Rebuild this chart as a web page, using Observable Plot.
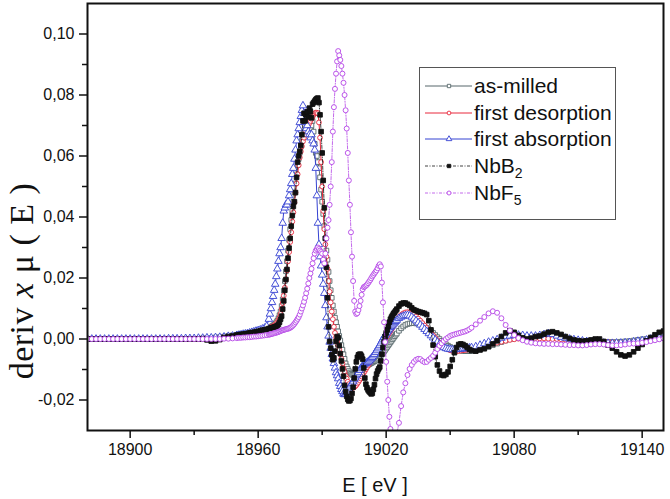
<!DOCTYPE html>
<html><head><meta charset="utf-8">
<script src="https://cdn.jsdelivr.net/npm/d3@7"></script>
<script src="https://cdn.jsdelivr.net/npm/@observablehq/plot@0.6"></script>
<style>
body{margin:0;background:#fff;}
#wrap{position:relative;width:670px;height:499px;font-family:"Liberation Sans",Arial,sans-serif;}
#legend{position:absolute;left:419px;top:67px;width:197px;height:153px;border:1px solid #555;background:#fff;box-sizing:border-box;}
#legend .row{position:absolute;left:5px;height:26px;display:flex;align-items:center;white-space:nowrap;font-size:21px;color:#111;}
#legend .row svg{display:block;margin-right:1px;}
#legend sub{font-size:14px;position:relative;top:5px;vertical-align:baseline;}
</style>
</head><body>
<div id="wrap"><div id="chart"></div><div id="legend"></div></div>
<script>
// ---------- data ----------
const energy = [
18880,18882,18884,18886,18888,18890,18892,18894,18896,18898,
18900,18902,18904,18906,18908,18910,18912,18914,18916,18918,
18920,18922,18924,18926,18928,18930,18932,18934,18936,18938,
18940,18942,18944,18946,18948,18950,
18951,18952,18953,18954,18955,18956,18957,18958,18959,18960,
18961,18962,18963,18964,18965,
18965.5,18966,18966.5,18967,18967.5,18968,18968.5,18969,18969.5,18970,
18970.5,18971,18971.5,18972,18972.5,18973,18973.5,18974,18974.5,18975,
18975.5,18976,18976.5,18977,18977.5,18978,18978.5,18979,18979.5,18980,
18980.5,18981,18981.5,18982,18982.5,18983,18983.5,18984,18984.5,18985,
18985.5,18986,18986.5,18987,18987.5,18988,18988.5,18989,18989.5,18990,
18990.5,18991,18991.5,18992,18992.5,18993,18993.5,18994,18994.5,18995,
18995.5,18996,18996.5,18997,18997.5,18998,18998.5,18999,18999.5,19000,
19000.5,19001,19001.5,19002,19002.5,19003,19003.5,19004,19004.5,19005,
19005.5,19006,19006.5,19007,19007.5,19008,19008.5,19009,19009.5,19010,
19010.5,19011,19011.5,19012,19012.5,19013,19013.5,19014,19014.5,19015,
19015.5,19016,19016.5,19017,19017.5,19018,19018.5,19019,19019.5,19020,
19020.5,19021,19021.5,19022,19022.5,19023,19023.5,19024,19024.5,19025,
19026,19027,19028,19029,19030,19031,19032,19033,19034,19035,
19036,19037,19038,19039,19040,19041,19042,19043,19044,19045,
19046,19047,19048,19049,19050,19051,19052,19053,19054,19055,
19056,19057,19058,19059,19060,
19062,19064,19066,19068,19070,19072,19074,19076,19078,19080,
19082,19084,19086,19088,19090,19092,19094,19096,19098,19100,
19102,19104,19106,19108,19110,19112,19114,19116,19118,19120,
19122,19124,19126,19128,19130,19132,19134,19136,19138,19140,
19142,19144,19146,19148,19150
];

const asMilled = [
0,0,0,0,0,0,0,0,0,0,
0,0,0,0,0,0,0,0,0,0,
0,0,0,0,0,0,0,0.0002,0.0002,0.0003,
0.0005,0.0006,0.0008,0.001,0.0012,0.0014,
0.0015,0.0016,0.0017,0.0018,0.0019,0.002,0.0022,0.0024,0.0025,0.0027,
0.0029,0.0031,0.0033,0.0035,0.0037,
0.0038,0.004,0.0042,0.0044,0.0047,0.005,0.0055,0.006,0.0068,0.0078,
0.009,0.0108,0.013,0.0158,0.019,0.0222,0.0255,0.029,0.0325,0.036,
0.039,0.042,0.045,0.048,0.051,0.054,0.057,0.059,0.061,0.063,
0.065,0.066,0.0675,0.068,0.069,0.07,0.071,0.0705,0.069,0.07,
0.0715,0.068,0.064,0.061,0.06,0.058,0.056,0.053,0.049,0.045,
0.041,0.037,0.033,0.029,0.026,0.022,0.019,0.016,0.0135,0.011,
0.009,0.007,0.0055,0.004,0.0025,0.001,-0.0005,-0.002,-0.0035,-0.005,
-0.0065,-0.008,-0.009,-0.0098,-0.0105,-0.011,-0.0114,-0.0117,-0.0118,-0.0118,
-0.0116,-0.0113,-0.011,-0.0107,-0.0104,-0.0101,-0.0098,-0.0095,-0.0093,-0.0091,
-0.0089,-0.0087,-0.0085,-0.0083,-0.0081,-0.0079,-0.0077,-0.0075,-0.0073,-0.0071,
-0.0068,-0.0065,-0.0062,-0.0058,-0.0054,-0.005,-0.0046,-0.0041,-0.0036,-0.0031,
-0.0026,-0.0021,-0.0016,-0.0011,-0.0006,-0.0001,0.0004,0.0009,0.0014,0.0018,
0.0027,0.0035,0.0041,0.0046,0.0049,0.0051,0.0052,0.0052,0.0051,0.005,
0.0048,0.0045,0.0041,0.0036,0.0031,0.0026,0.002,0.0013,0.0006,0,
-0.0006,-0.0012,-0.0017,-0.0022,-0.0026,-0.003,-0.0033,-0.0035,-0.0037,-0.0038,
-0.0039,-0.004,-0.004,-0.004,-0.0039,
-0.0037,-0.0034,-0.003,-0.0025,-0.002,-0.0015,-0.001,-0.0005,-0.0001,0.0002,
0.0004,0.0005,0.0006,0.0007,0.0007,0.0007,0.0007,0.0007,0.0006,0.0005,
0.0003,0.0001,-0.0001,-0.0003,-0.0005,-0.0006,-0.0007,-0.0008,-0.0009,-0.001,
-0.001,-0.001,-0.001,-0.001,-0.0009,-0.0008,-0.0007,-0.0005,-0.0003,-0.0001,
0,0.0001,0.0002,0.0003,0.0004
];

const firstDesorption = [
0,0,0,0,0,0,0,0,0,0,
0,0,0,0,0,0,0,0,0,0,
0,0,0,0,0,0,0,0.0001,0.0002,0.0003,
0.0004,0.0006,0.0007,0.0009,0.001,0.0012,
0.0013,0.0014,0.0015,0.0016,0.0018,0.0019,0.002,0.0022,0.0024,0.0026,
0.0028,0.003,0.0032,0.0034,0.0036,
0.0037,0.0039,0.004,0.0042,0.0044,0.0047,0.005,0.0055,0.0062,0.007,
0.0082,0.0098,0.0118,0.0142,0.0168,0.0195,0.0225,0.0255,0.0285,0.0318,
0.035,0.0385,0.0415,0.0448,0.048,0.051,0.054,0.057,0.0595,0.0615,
0.0632,0.0648,0.066,0.067,0.068,0.069,0.07,0.0708,0.0715,0.0722,
0.0728,0.0735,0.074,0.0742,0.0742,0.074,0.071,0.066,0.058,0.05,
0.042,0.036,0.031,0.027,0.023,0.019,0.0155,0.012,0.009,0.0065,
0.004,0.002,0.0005,-0.0008,-0.002,-0.0035,-0.005,-0.0065,-0.008,-0.0095,
-0.0108,-0.012,-0.013,-0.014,-0.0148,-0.0154,-0.0158,-0.016,-0.016,-0.0158,
-0.0155,-0.0151,-0.0146,-0.0141,-0.0135,-0.0129,-0.0123,-0.0117,-0.0111,-0.0105,
-0.0099,-0.0093,-0.0087,-0.0081,-0.0075,-0.0069,-0.0063,-0.0057,-0.0051,-0.0046,
-0.0041,-0.0036,-0.0031,-0.0026,-0.0021,-0.0016,-0.0011,-0.0006,-0.0001,0.0004,
0.0009,0.0015,0.002,0.0026,0.0032,0.0038,0.0044,0.005,0.0056,0.0062,
0.0072,0.0079,0.0084,0.0087,0.0088,0.0087,0.0084,0.008,0.0074,0.0067,
0.006,0.0052,0.0044,0.0036,0.0028,0.002,0.0012,0.0004,-0.0004,-0.0012,
-0.0019,-0.0025,-0.003,-0.0034,-0.0037,-0.0039,-0.004,-0.004,-0.0039,-0.0038,
-0.0037,-0.0036,-0.0035,-0.0034,-0.0033,
-0.003,-0.0027,-0.0023,-0.0019,-0.0015,-0.0012,-0.0009,-0.0006,-0.0003,-0.0001,
0.0001,0.0002,0.0003,0.0003,0.0003,0.0002,0.0002,0.0001,0,0,
-0.0001,-0.0002,-0.0003,-0.0004,-0.0005,-0.0006,-0.0007,-0.0007,-0.0008,-0.0008,
-0.0009,-0.001,-0.0011,-0.0012,-0.0012,-0.0012,-0.0011,-0.001,-0.0008,-0.0006,
-0.0004,-0.0002,0,0.0002,0.0004
];

const firstAbsorption = [
0,0,0,0,0,0,0,0,0,0,
0,0,0,0,0,0,0,0,0,0.0001,
0.0001,0.0001,0.0001,0.0002,0.0002,0.0002,0.0003,0.0003,0.0004,0.0004,
0.0005,0.0006,0.0007,0.0009,0.001,0.0012,
0.0013,0.0014,0.0016,0.0017,0.0018,0.002,0.0022,0.0024,0.0026,0.0028,
0.003,0.0033,0.0036,0.0042,0.0065,
0.0082,0.01,0.012,0.014,0.016,0.018,0.0205,0.023,0.0255,0.028,
0.03,0.033,0.038,0.042,0.043,0.044,0.044,0.045,0.047,0.049,
0.051,0.054,0.056,0.059,0.062,0.065,0.067,0.069,0.071,0.073,
0.075,0.0765,0.074,0.071,0.069,0.07,0.068,0.067,0.066,0.067,
0.065,0.064,0.062,0.056,0.047,0.038,0.031,0.027,0.024,0.021,
0.018,0.015,0.011,0.007,0.004,0.001,-0.001,-0.003,-0.005,-0.0065,
-0.008,-0.0095,-0.011,-0.012,-0.013,-0.0145,-0.0155,-0.0165,-0.0172,-0.018,
-0.0182,-0.018,-0.0175,-0.017,-0.0163,-0.0157,-0.015,-0.0145,-0.014,-0.0133,
-0.0127,-0.012,-0.0115,-0.011,-0.0103,-0.0097,-0.0092,-0.0088,-0.0085,-0.0082,
-0.008,-0.0077,-0.0075,-0.0072,-0.0068,-0.0064,-0.006,-0.0055,-0.005,-0.0044,
-0.0038,-0.0032,-0.0026,-0.002,-0.0013,-0.0006,0,0.0006,0.0012,0.0018,
0.0023,0.0028,0.0033,0.0038,0.0042,0.0046,0.005,0.0054,0.0058,0.0062,
0.0068,0.0072,0.0075,0.0077,0.0078,0.0076,0.0072,0.0066,0.006,0.0053,
0.0046,0.0039,0.0032,0.0025,0.0018,0.0011,0.0004,-0.0003,-0.001,-0.0017,
-0.0023,-0.0028,-0.0031,-0.0033,-0.0034,-0.0035,-0.0035,-0.0034,-0.0033,-0.0033,
-0.0032,-0.0031,-0.003,-0.0029,-0.0028,
-0.0025,-0.002,-0.0015,-0.001,-0.0006,-0.0002,0.0003,0.0008,0.001,0.0012,
0.0013,0.0012,0.001,0.001,0.001,0.0012,0.0015,0.0018,0.0015,0.001,
0.0006,0.0003,0,-0.0002,-0.0004,-0.0006,-0.0008,-0.001,-0.0011,-0.0012,
-0.0013,-0.0014,-0.0014,-0.0013,-0.0013,-0.0012,-0.0011,-0.0009,-0.0007,-0.0005,
-0.0003,0,0.0002,0.0003,0.0005
];

const nbB2 = [
0,0,0,0,0,0,0,0,0,0,
0,0,0,0,0,0,0,0,0,0,
0,0,0,0,0,0,0,0.0001,-0.0003,-0.0007,
-0.0006,-0.0002,0.0005,0.0008,0.001,0.0013,
0.0014,0.0015,0.0016,0.0017,0.0018,0.002,0.0021,0.0022,0.0024,0.0025,
0.0027,0.0029,0.003,0.0032,0.0034,
0.0035,0.0036,0.0037,0.0038,0.0039,0.004,0.0042,0.0044,0.0048,0.0055,
0.0065,0.0075,0.0098,0.0125,0.016,0.0195,0.0228,0.0265,0.0298,0.033,
0.037,0.0405,0.0435,0.045,0.048,0.053,0.058,0.06,0.0615,0.0635,
0.067,0.0715,0.074,0.0715,0.0735,0.0745,0.0728,0.0757,0.0745,0.0725,
0.077,0.0775,0.078,0.0785,0.0788,0.079,0.0775,0.0735,0.068,0.061,
0.052,0.043,0.033,0.0235,0.0135,0.004,-0.0008,-0.003,-0.0052,-0.0068,
-0.0062,-0.004,-0.0008,0.0008,0.0004,-0.0022,-0.0048,-0.0072,-0.0098,-0.0122,
-0.0152,-0.0172,-0.0188,-0.0198,-0.0203,-0.0202,-0.0195,-0.0178,-0.0158,-0.0128,
-0.0098,-0.0075,-0.006,-0.0052,-0.005,-0.005,-0.0056,-0.0066,-0.0095,-0.0128,
-0.0148,-0.016,-0.0167,-0.0172,-0.0176,-0.018,-0.0178,-0.0165,-0.015,-0.013,
-0.0115,-0.0105,-0.0098,-0.0092,-0.0072,-0.005,-0.0028,-0.001,0.0008,0.002,
0.003,0.0042,0.0055,0.0065,0.0072,0.0078,0.0084,0.0088,0.0093,0.0098,
0.0108,0.0115,0.0118,0.0118,0.0114,0.011,0.0102,0.0096,0.0093,0.009,
0.0088,0.0086,0.0084,0.008,0.006,0.003,-0.002,-0.0058,-0.0085,-0.0105,
-0.0118,-0.012,-0.0116,-0.0108,-0.009,-0.0068,-0.0045,-0.0028,-0.0018,-0.0016,
-0.0018,-0.0022,-0.0028,-0.0034,-0.0038,
-0.004,-0.0036,-0.0032,-0.0025,-0.0016,-0.0006,0.0008,0.002,0.0027,0.0022,
0.0012,0.0004,0,0.0003,0.0008,0.001,0.0016,0.0022,0.0024,0.002,
0.0015,0.0008,0.0002,-0.0003,-0.0006,-0.0007,-0.0006,-0.0003,0,0,
-0.0008,-0.002,-0.003,-0.0042,-0.0052,-0.0056,-0.0052,-0.0042,-0.003,-0.0018,
-0.0006,0.0005,0.0014,0.0022,0.0026
];

const nbF5 = [
0,0,0,0,0,0,0,0,0,0,
0,0,0,0,0,0,0,0,0,0,
0,0,0,0,0,0,0,0,0,0,
0,0,0.0001,0.0001,0.0002,0.0003,
0.0004,0.0004,0.0005,0.0005,0.0006,0.0006,0.0007,0.0008,0.0008,0.0009,
0.001,0.0011,0.0012,0.0013,0.0014,
0.0015,0.0016,0.0017,0.0018,0.0019,0.002,0.0021,0.0022,0.0023,0.0025,
0.0026,0.0028,0.0029,0.003,0.0031,0.0032,0.0033,0.0034,0.0035,0.0037,
0.0039,0.0042,0.0046,0.005,0.0055,0.006,0.0066,0.0072,0.008,0.009,
0.01,0.011,0.0122,0.0135,0.015,0.0165,0.0182,0.02,0.0215,0.023,
0.0248,0.0265,0.028,0.029,0.0295,0.03,0.0295,0.029,0.0285,0.028,
0.026,0.0248,0.028,0.033,0.0365,0.039,0.044,0.05,0.058,0.068,
0.076,0.082,0.087,0.091,0.0944,0.093,0.0915,0.0895,0.087,0.084,
0.08,0.075,0.069,0.061,0.052,0.044,0.035,0.027,0.019,0.0125,
0.009,0.0082,0.0085,0.0095,0.0108,0.0125,0.0145,0.0163,0.017,0.0172,
0.0175,0.0178,0.0183,0.0188,0.0193,0.0199,0.0205,0.021,0.0215,0.022,
0.0225,0.0232,0.024,0.0245,0.0238,0.0185,0.012,0.0055,-0.001,-0.0075,
-0.014,-0.02,-0.0255,-0.0295,-0.033,-0.036,-0.037,-0.036,-0.034,-0.031,
-0.0275,-0.022,-0.0175,-0.0145,-0.0118,-0.0098,-0.0085,-0.0075,-0.0068,-0.0065,
-0.0066,-0.0072,-0.0076,-0.0075,-0.0068,-0.0062,-0.0055,-0.0045,-0.0033,-0.0022,
-0.0014,-0.0006,0,0.0005,0.001,0.0013,0.0015,0.0017,0.0019,0.0021,
0.0023,0.0025,0.0028,0.0032,0.0037,
0.0048,0.006,0.0072,0.0084,0.0091,0.0086,0.0068,0.0046,0.0028,0.0013,
0.0003,-0.0004,-0.0009,-0.0012,-0.0014,-0.0015,-0.0016,-0.0016,-0.0017,-0.0017,
-0.0018,-0.0019,-0.002,-0.002,-0.0021,-0.0021,-0.002,-0.0018,-0.0017,-0.0017,
-0.0018,-0.002,-0.0021,-0.0021,-0.002,-0.0018,-0.0016,-0.0015,-0.0014,-0.0012,
-0.001,-0.0007,-0.0004,-0.0001,0.0002
];

const seriesNames = ["as-milled", "first desorption", "first absorption", "NbB2", "NbF5"];
const seriesLabels = ["as-milled", "first desorption", "first absorption", "NbB<sub>2</sub>", "NbF<sub>5</sub>"];
const seriesValues = [asMilled, firstDesorption, firstAbsorption, nbB2, nbF5];

const xTicks = [18900, 18960, 19020, 19080, 19140];
const xMinorTicks = [18930, 18990, 19050, 19110];
const yTicks = [-0.02, 0, 0.02, 0.04, 0.06, 0.08, 0.10];
const yMinorTicks = [-0.01, 0.01, 0.03, 0.05, 0.07, 0.09];

// ---------- styles ----------
const styles = [
  {color: "#56666a", symbol: "square", fill: "white", r: 2.6, lr: 1.9, dash: null, width: 1},
  {color: "#e8283c", symbol: "circle", fill: "white", r: 2.4, lr: 1.9, dash: null, width: 1},
  {color: "#3542d2", symbol: "triangle", fill: "white", r: 2.8, lr: 2.1, dash: null, width: 1},
  {color: "#111111", symbol: "square", fill: "#111111", r: 2.6, lr: 1.9, dash: "3,1.5,1,1.5", width: 0.8},
  {color: "#b444e6", symbol: "circle", fill: "white", r: 2.5, lr: 2.0, dash: "3,1.5,1,1.5", width: 0.8}
];

const fmtY = d => (d < -1e-9 ? "-" : "") + Math.abs(d).toFixed(2).replace(".", ",");

const marks = [];
seriesValues.forEach((vals, i) => {
  const st = styles[i];
  const rows = energy.map((e, j) => ({E: e, v: vals[j], s: seriesNames[i]})).filter(d => d.v != null);
  marks.push(Plot.line(rows, {x: "E", y: "v", stroke: st.color, strokeWidth: st.width, strokeDasharray: st.dash, clip: true}));
  marks.push(Plot.dot(rows, {x: "E", y: "v", symbol: st.symbol, r: st.r, stroke: st.color, fill: st.fill, strokeWidth: 0.9, clip: true}));
});

const chart = Plot.plot({
  width: 670,
  height: 499,
  marginLeft: 87,
  marginRight: 7,
  marginTop: 3,
  marginBottom: 69,
  style: {fontFamily: "'Liberation Sans', Arial, sans-serif", fontSize: "16px", color: "#111", background: "white"},
  x: {domain: [18880, 19150]},
  y: {domain: [-0.03, 0.11]},
  marks: [
    ...marks,
    Plot.axisX({ticks: xTicks, tickSize: 8, tickPadding: 5, tickFormat: d => String(d), label: null, strokeWidth: 1.5}),
    Plot.axisX({ticks: xMinorTicks, tickSize: 5, tickFormat: () => "", label: null, strokeWidth: 1.5}),
    Plot.axisY({ticks: yTicks, tickSize: 8, tickPadding: 5, tickFormat: fmtY, label: null, strokeWidth: 1.5}),
    Plot.axisY({ticks: yMinorTicks, tickSize: 5, tickFormat: () => "", label: null, strokeWidth: 1.5}),
    Plot.frame({stroke: "#111", strokeWidth: 2})
  ]
});

const svg = d3.select(chart);
svg.append("text")
  .attr("transform", "translate(33,281) rotate(-90)")
  .attr("text-anchor", "middle")
  .attr("font-family", "'Liberation Serif', 'Times New Roman', serif")
  .attr("font-size", 34)
  .attr("letter-spacing", 0.5)
  .attr("fill", "#111")
  .html('deriv <tspan font-style="italic">x</tspan> μ ( E )');
svg.append("text")
  .attr("x", 375).attr("y", 492)
  .attr("text-anchor", "middle")
  .attr("font-family", "'Liberation Sans', Arial, sans-serif")
  .attr("font-size", 20)
  .attr("fill", "#111")
  .text("E [ eV ]");

document.getElementById("chart").appendChild(chart);

// ---------- legend ----------
const legend = d3.select("#legend");
styles.forEach((st, i) => {
  const row = legend.append("div").attr("class", "row").style("top", (5 + i * 26.7) + "px");
  const s = row.append("svg").attr("width", 48).attr("height", 14);
  s.append("line").attr("x1", 0).attr("x2", 47).attr("y1", 7).attr("y2", 7)
    .attr("stroke", st.color).attr("stroke-width", st.width)
    .attr("stroke-dasharray", st.dash);
  const sym = st.symbol === "square" ? d3.symbolSquare : st.symbol === "circle" ? d3.symbolCircle : d3.symbolTriangle;
  s.append("path").attr("d", d3.symbol(sym, Math.PI * st.lr * st.lr)())
    .attr("transform", "translate(24,7)")
    .attr("fill", st.fill).attr("stroke", st.color).attr("stroke-width", 0.9);
  row.append("span").html(seriesLabels[i]);
});
</script>
</body></html>
